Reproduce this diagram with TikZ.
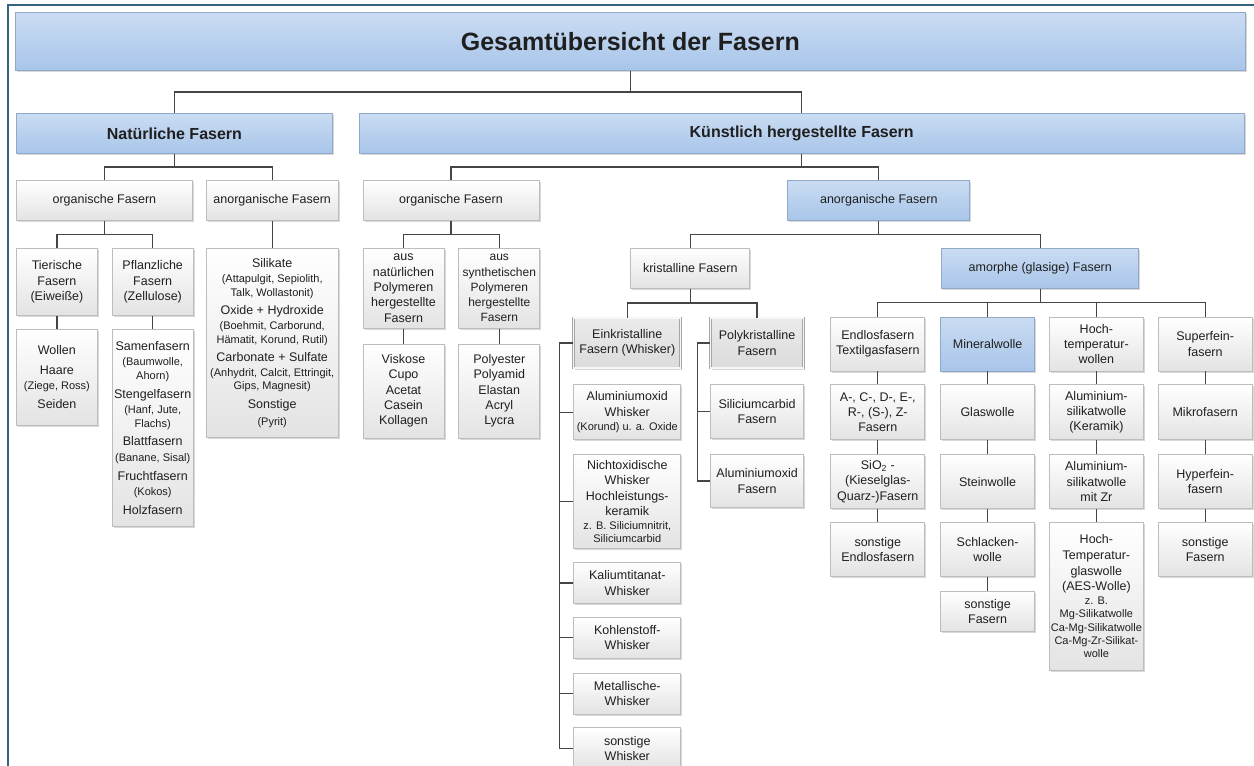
\documentclass[tikz,border=0pt]{standalone}
\usepackage{fontspec}
\setmainfont{Liberation Sans}
\usepackage{tikz}
\usetikzlibrary{positioning, calc, shadows}
\definecolor{boxline}{HTML}{BDBDBD}
\definecolor{boxbot}{HTML}{E3E3E3}
\definecolor{bluetop}{HTML}{CADCF2}
\definecolor{bluebot}{HTML}{A8C5EA}
\definecolor{blueline}{HTML}{8FA9C9}
\definecolor{linkgray}{HTML}{454545}
\definecolor{frameblue}{HTML}{35647F}
\definecolor{inktext}{HTML}{1F1F1F}
\newcommand{\detail}[1]{{\fontsize{11}{13.3}\selectfont #1}}

\begin{document}
\begin{tikzpicture}[
  x=1pt, y=-1pt,
  fasbox/.style={draw=boxline, top color=white, bottom color=boxbot, text=inktext,
                 align=center, inner xsep=1pt, inner ysep=2pt, line width=0.8pt,
                 font=\fontsize{12.5}{15.3}\selectfont,
                 drop shadow={shadow xshift=1.6pt, shadow yshift=-1.6pt, fill=black!30, opacity=0.5}},
  bluebox/.style={fasbox, draw=blueline, top color=bluetop, bottom color=bluebot},
  headbox/.style={bluebox, font=\bfseries\fontsize{16}{19}\selectfont},
  kristbox/.style={fasbox, draw=gray!70, double=gray!6, double distance=1.2pt,
                   top color=gray!16, bottom color=gray!28},
  mixed/.style={font=\fontsize{12.5}{13.3}\selectfont},
  link/.style={draw=linkgray, line width=1.3pt},
  elbow/.style={to path={|- ($(\tikztostart)!0.5!(\tikztotarget)$) -| (\tikztotarget)}},
  frame/.style={draw=frameblue, line width=2.6pt}
]
  \useasboundingbox (0,0) rectangle (1254,766);
  \draw[frame] (8,766) -- (8,5) -- (1254,5);

  % Title and main branches
  \node[headbox, anchor=north west, minimum width=1230pt, minimum height=58pt,
        font=\bfseries\fontsize{25}{30}\selectfont] (title) at (15,12)
    {Gesamtübersicht der Fasern};
  \node[headbox, anchor=north west, minimum width=316pt, minimum height=40pt] (nat) at (16,113)
    {Natürliche Fasern};
  \node[headbox, minimum width=885pt, minimum height=40pt, right=26pt of nat] (kuenst)
    {Künstlich hergestellte Fasern};

  % Second level
  \node[fasbox, anchor=north west, minimum width=176pt, minimum height=40pt] (orgN) at (16,180)
    {organische Fasern};
  \node[fasbox, minimum width=132pt, minimum height=40pt, right=13pt of orgN] (anorgN)
    {anorganische Fasern};
  \node[fasbox, minimum width=176pt, minimum height=40pt, right=24pt of anorgN] (orgK)
    {organische Fasern};
  \node[bluebox, minimum width=182pt, minimum height=40pt, right=248pt of orgK] (anorgK)
    {anorganische Fasern};

  % Natural fibres
  \node[fasbox, anchor=north west, minimum width=81pt, minimum height=67pt] (tier) at (16,248)
    {Tierische\\Fasern\\(Eiweiße)};
  \node[fasbox, minimum width=81pt, minimum height=67pt, right=14pt of tier] (pflanz)
    {Pflanzliche\\Fasern\\(Zellulose)};
  \node[fasbox, mixed, minimum width=132pt, minimum height=189pt, below=27pt of anorgN] (silikate)
    {Silikate\\[2.4pt]\detail{(Attapulgit, Sepiolith,}\\\detail{Talk, Wollastonit)}\\[5pt]
     Oxide + Hydroxide\\[2pt]\detail{(Boehmit, Carborund,}\\\detail{Hämatit, Korund, Rutil)}\\[5pt]
     Carbonate + Sulfate\\[2pt]\detail{(Anhydrit, Calcit, Ettringit,}\\\detail{Gips, Magnesit)}\\[5.5pt]
     Sonstige\\[3pt]\detail{(Pyrit)}};
  \node[fasbox, mixed, minimum width=81pt, minimum height=96pt, below=13pt of tier] (wollen)
    {Wollen\\[6.7pt]Haare\\[1.4pt]\detail{(Ziege, Ross)}\\[5.4pt]Seiden};
  \node[fasbox, mixed, minimum width=81pt, minimum height=197pt, below=13pt of pflanz] (samen)
    {Samenfasern\\[2pt]\detail{(Baumwolle,}\\[0.5pt]\detail{Ahorn)}\\[5.5pt]
     Stengelfasern\\[2pt]\detail{(Hanf, Jute,}\\[0.5pt]\detail{Flachs)}\\[5.5pt]
     Blattfasern\\[2pt]\detail{(Banane, Sisal)}\\[5.5pt]
     Fruchtfasern\\[2pt]\detail{(Kokos)}\\[5.5pt]Holzfasern};

  % Man-made organic fibres
  \node[fasbox, minimum width=81pt, minimum height=80pt, below=27pt of orgK, xshift=-47.5pt] (ausnat)
    {aus\\natürlichen\\Polymeren\\hergestellte\\Fasern};
  \node[fasbox, minimum width=81pt, minimum height=80pt, right=14pt of ausnat,
        font=\fontsize{12}{15.3}\selectfont] (aussyn)
    {aus\\synthetischen\\Polymeren\\hergestellte\\Fasern};
  \node[fasbox, minimum width=81pt, minimum height=94pt, below=15pt of ausnat] (viskose)
    {Viskose\\Cupo\\Acetat\\Casein\\Kollagen};
  \node[fasbox, minimum width=81pt, minimum height=94pt, below=15pt of aussyn] (polyester)
    {Polyester\\Polyamid\\Elastan\\Acryl\\Lycra};

  % Man-made inorganic fibres
  \node[fasbox, minimum width=119pt, minimum height=40pt, below=27pt of anorgK, xshift=-188.5pt] (krist)
    {kristalline Fasern};
  \node[bluebox, minimum width=197pt, minimum height=40pt, below=27pt of anorgK, xshift=161.5pt] (amorph)
    {amorphe (glasige) Fasern};

  % Crystalline
  \node[kristbox, minimum width=107pt, minimum height=50pt, below=29pt of krist, xshift=-63pt] (ein)
    {Einkristalline\\Fasern (Whisker)};
  \node[kristbox, minimum width=93pt, minimum height=50pt, right=29pt of ein] (poly)
    {Polykristalline\\Fasern};

  \node[fasbox, mixed, minimum width=107pt, minimum height=55pt, below=16pt of ein] (alw)
    {Aluminiumoxid\\[2.5pt]Whisker\\[1pt]\detail{(Korund) u. a. Oxide}};
  \node[fasbox, mixed, minimum width=107pt, minimum height=94pt, below=14pt of alw] (nox)
    {Nichtoxidische\\[2pt]Whisker\\[2pt]Hochleistungs-\\[2pt]keramik\\[0.5pt]
     \detail{z. B. Siliciumnitrit,}\\\detail{Siliciumcarbid}};
  \node[fasbox, minimum width=107pt, minimum height=41pt, below=13pt of nox] (kal)
    {Kaliumtitanat-\\Whisker};
  \node[fasbox, minimum width=107pt, minimum height=41pt, below=13pt of kal] (koh)
    {Kohlenstoff-\\Whisker};
  \node[fasbox, minimum width=107pt, minimum height=41pt, below=14pt of koh] (met)
    {Metallische-\\Whisker};
  \node[fasbox, minimum width=107pt, minimum height=41pt, below=13pt of met] (sonw)
    {sonstige\\Whisker};

  \node[fasbox, minimum width=93pt, minimum height=54pt, below=16pt of poly] (sic)
    {Siliciumcarbid\\Fasern};
  \node[fasbox, minimum width=93pt, minimum height=53pt, below=15pt of sic] (alf)
    {Aluminiumoxid\\Fasern};

  % Amorphous
  \node[fasbox, minimum width=94pt, minimum height=54pt, below=28pt of amorph, xshift=-162.5pt] (endl)
    {Endlosfasern\\Textilgasfasern};
  \node[bluebox, minimum width=94pt, minimum height=54pt, right=15pt of endl] (miner)
    {Mineralwolle};
  \node[fasbox, minimum width=94pt, minimum height=54pt, right=14pt of miner] (hocht)
    {Hoch-\\temperatur-\\wollen};
  \node[fasbox, minimum width=94pt, minimum height=54pt, right=14pt of hocht] (superf)
    {Superfein-\\fasern};

  \node[fasbox, minimum width=94pt, minimum height=55pt, below=13pt of endl] (aceg)
    {A-, C-, D-, E-,\\R-, (S-), Z-\\Fasern};
  \node[fasbox, minimum width=94pt, minimum height=54pt, below=14pt of aceg] (sio)
    {SiO\textsubscript{2} -\\(Kieselglas-\\Quarz-)Fasern};
  \node[fasbox, minimum width=94pt, minimum height=54pt, below=13pt of sio] (sonend)
    {sonstige\\Endlosfasern};

  \node[fasbox, minimum width=94pt, minimum height=55pt, below=13pt of miner] (glasw)
    {Glaswolle};
  \node[fasbox, minimum width=94pt, minimum height=54pt, below=14pt of glasw] (steinw)
    {Steinwolle};
  \node[fasbox, minimum width=94pt, minimum height=54pt, below=13pt of steinw] (schlack)
    {Schlacken-\\wolle};
  \node[fasbox, minimum width=94pt, minimum height=40pt, below=14pt of schlack] (sonmin)
    {sonstige\\Fasern};

  \node[fasbox, minimum width=94pt, minimum height=55pt, below=13pt of hocht] (alsil)
    {Aluminium-\\silikatwolle\\(Keramik)};
  \node[fasbox, minimum width=94pt, minimum height=54pt, below=14pt of alsil] (alsilzr)
    {Aluminium-\\silikatwolle\\mit Zr};
  \node[fasbox, mixed, minimum width=94pt, minimum height=148pt, below=13pt of alsilzr] (aes)
    {Hoch-\\[2.3pt]Temperatur-\\[2.3pt]glaswolle\\[2pt](AES-Wolle)\\[1pt]
     \detail{z. B.}\\\detail{Mg-Silikatwolle}\\\detail{Ca-Mg-Silikatwolle}\\
     \detail{Ca-Mg-Zr-Silikat-}\\\detail{wolle}};

  \node[fasbox, minimum width=94pt, minimum height=55pt, below=13pt of superf] (mikro)
    {Mikrofasern};
  \node[fasbox, minimum width=94pt, minimum height=54pt, below=14pt of mikro] (hyper)
    {Hyperfein-\\fasern};
  \node[fasbox, minimum width=94pt, minimum height=54pt, below=13pt of hyper] (sonsup)
    {sonstige\\Fasern};

  % Tree connectors
  \draw[link] (title.south) to[elbow] (nat.north) (title.south) to[elbow] (kuenst.north);
  \draw[link] (nat.south) to[elbow] (orgN.north) (nat.south) to[elbow] (anorgN.north);
  \draw[link] (kuenst.south) to[elbow] (orgK.north) (kuenst.south) to[elbow] (anorgK.north);
  \draw[link] (orgN.south) to[elbow] (tier.north) (orgN.south) to[elbow] (pflanz.north);
  \draw[link] (orgK.south) to[elbow] (ausnat.north) (orgK.south) to[elbow] (aussyn.north);
  \draw[link] (anorgK.south) to[elbow] (krist.north) (anorgK.south) to[elbow] (amorph.north);
  \draw[link] (krist.south) to[elbow] (ein.north) (krist.south) to[elbow] (poly.north);
  \draw[link] (amorph.south) to[elbow] (endl.north) (amorph.south) to[elbow] (miner.north)
              (amorph.south) to[elbow] (hocht.north) (amorph.south) to[elbow] (superf.north);

  % Straight columns
  \draw[link] (anorgN) -- (silikate);
  \draw[link] (tier) -- (wollen);
  \draw[link] (pflanz) -- (samen);
  \draw[link] (ausnat) -- (viskose);
  \draw[link] (aussyn) -- (polyester);
  \draw[link] (endl) -- (aceg) (aceg) -- (sio) (sio) -- (sonend);
  \draw[link] (miner) -- (glasw) (glasw) -- (steinw) (steinw) -- (schlack) (schlack) -- (sonmin);
  \draw[link] (hocht) -- (alsil) (alsil) -- (alsilzr) (alsilzr) -- (aes);
  \draw[link] (superf) -- (mikro) (mikro) -- (hyper) (hyper) -- (sonsup);

  % Side rails
  \coordinate (einrail) at ($(ein.west)+(-14,0)$);
  \draw[link] (ein.west) -- (einrail) |- (sonw.west);
  \draw[link] (alw.west) -- (alw.west -| einrail);
  \draw[link] (nox.west) -- (nox.west -| einrail);
  \draw[link] (kal.west) -- (kal.west -| einrail);
  \draw[link] (koh.west) -- (koh.west -| einrail);
  \draw[link] (met.west) -- (met.west -| einrail);

  \coordinate (polyrail) at ($(poly.west)+(-13,0)$);
  \draw[link] (poly.west) -- (polyrail) |- (alf.west);
  \draw[link] (sic.west) -- (sic.west -| polyrail);
\end{tikzpicture}
\end{document}
